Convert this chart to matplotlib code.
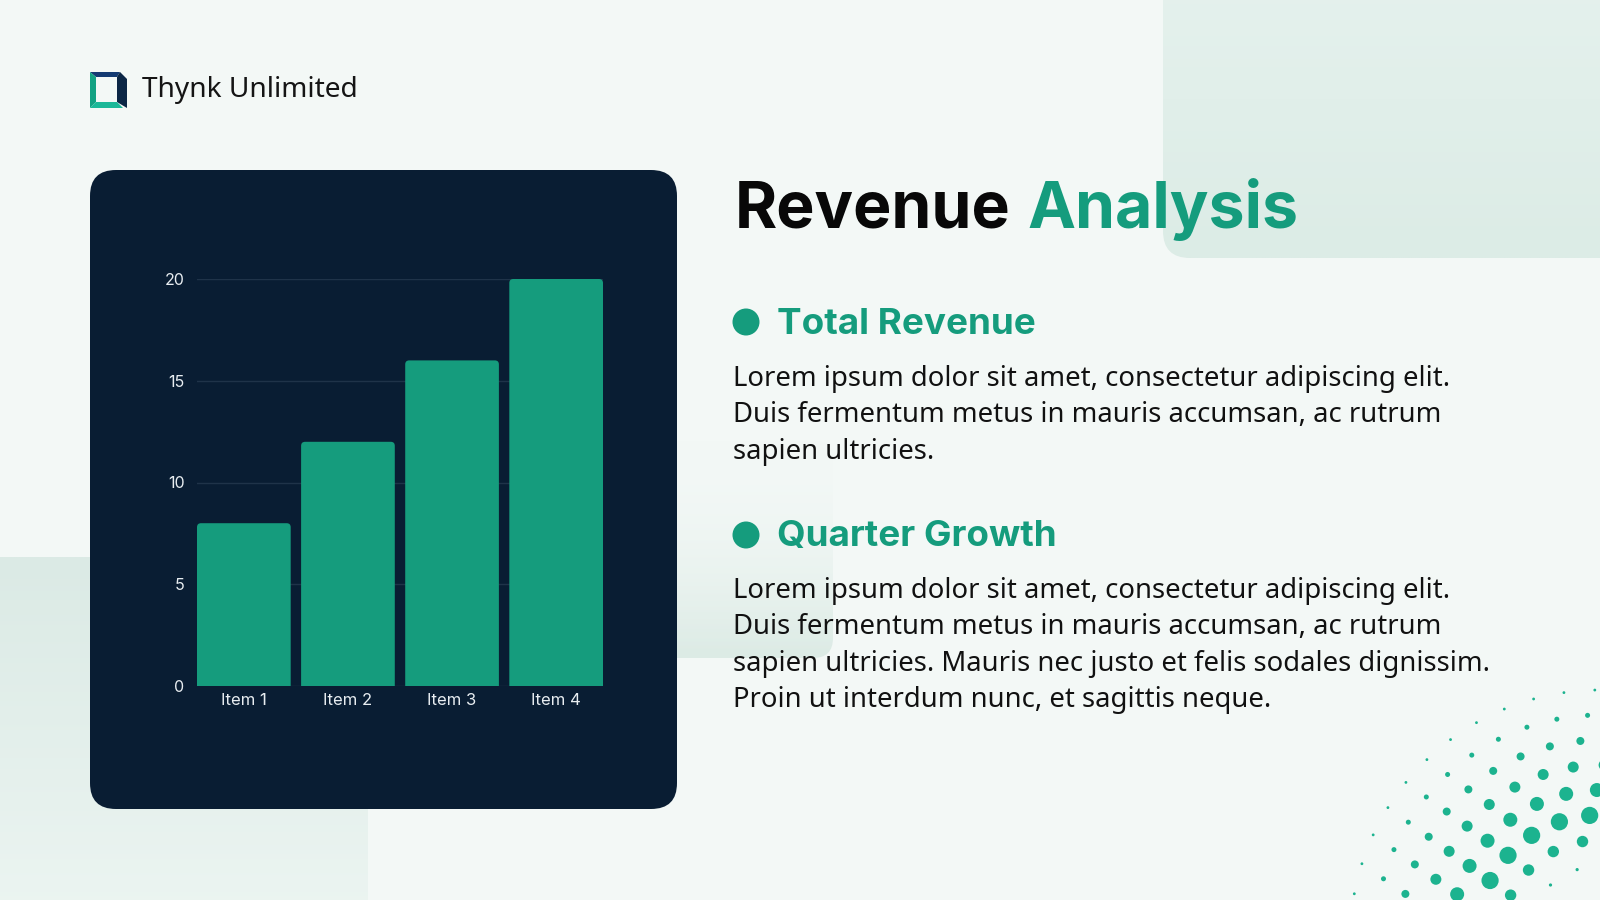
"""
Revenue Analysis slide: bar chart in a dark card with text blocks on the right.
"""

import numpy as np
import matplotlib
matplotlib.use("Agg")
import matplotlib.pyplot as plt
from matplotlib.patches import FancyBboxPatch, Polygon, Circle
from matplotlib.colors import to_rgb

# chart data
categories = ["Item 1", "Item 2", "Item 3", "Item 4"]
values = [8, 12, 16, 20]
y_ticks = [0, 5, 10, 15, 20]

# slide text
brand = "Thynk Unlimited"
title_dark = "Revenue"
title_green = "Analysis"
heading_1 = "Total Revenue"
body_1 = [
    "Lorem ipsum dolor sit amet, consectetur adipiscing elit.",
    "Duis fermentum metus in mauris accumsan, ac rutrum",
    "sapien ultricies.",
]
heading_2 = "Quarter Growth"
body_2 = [
    "Lorem ipsum dolor sit amet, consectetur adipiscing elit.",
    "Duis fermentum metus in mauris accumsan, ac rutrum",
    "sapien ultricies. Mauris nec justo et felis sodales dignissim.",
    "Proin ut interdum nunc, et sagittis neque.",
]

BG = "#f3f8f6"
CARD = "#091d33"
GREEN = "#159c7d"
DOT = "#1cb38f"

fig = plt.figure(figsize=(16, 9), dpi=100, facecolor=BG)
bg = fig.add_axes([0, 0, 1, 1])
bg.set_facecolor(BG)
bg.axis("off")
renderer = fig.canvas.get_renderer()


def gradient_box(x0, y0, x1, y1, c_top, c_bot, a_top=1.0, a_bot=1.0, radius=0):
    n = 256
    t = np.linspace(0, 1, n)[:, None]
    top = np.array(to_rgb(c_top) + (a_top,))
    bot = np.array(to_rgb(c_bot) + (a_bot,))
    img = top + (bot - top) * t
    img = np.repeat(img[:, None, :], 2, axis=1).reshape(n, 2, 4)
    im = bg.imshow(img, extent=(x0, x1, y1, y0), aspect="auto",
                   interpolation="bilinear", zorder=1)
    clip = FancyBboxPatch((x0, y0), x1 - x0, y1 - y0,
                          boxstyle=f"round,pad=0,rounding_size={radius}",
                          facecolor="none", edgecolor="none",
                          transform=bg.transData)
    bg.add_patch(clip)
    im.set_clip_path(clip)


# soft background shapes
gradient_box(1163, -60, 1660, 258, "#e6f2ee", "#dcece6", radius=27)
gradient_box(-60, 557, 368, 960, "#dbeae5", "#eef6f3", radius=0)
gradient_box(600, 440, 833, 658, BG, "#dcebe5", a_top=0.0, a_bot=1.0, radius=20)

# halftone dots, bottom right
dot_center = (1600, 940)
ring_radii = [250, 225, 200, 175, 150, 125, 100, 74]
ring_dot_sizes = [1.4, 2.5, 4.0, 5.5, 7.0, 8.6, 5.7, 1.6]
for k, (R, s) in enumerate(zip(ring_radii, ring_dot_sizes)):
    step = 31.0 / R
    a = ((k + 1) % 2) * step / 2
    while a < np.pi / 2 + step:
        x = dot_center[0] - R * np.cos(a)
        y = dot_center[1] - R * np.sin(a)
        if x < 1600 + s and y < 900 + s:
            bg.add_patch(Circle((x, y), s, color=DOT, lw=0, zorder=2))
        a += step

# logo
logo_parts = [
    ([(90, 72), (120, 72), (117, 77), (96, 77)], "#133a72"),
    ([(120, 72), (127, 79), (127, 108), (117, 102), (117, 77)], "#0b2645"),
    ([(90, 72), (96, 77), (96, 102), (90, 108)], "#13a283"),
    ([(90, 108), (96, 102), (117, 102), (123, 108)], "#1bb898"),
]
for pts, col in logo_parts:
    bg.add_patch(Polygon(pts, closed=True, color=col, lw=0, zorder=3))


def text_width(s, size, **kw):
    t = bg.text(0, 0, s, fontsize=size, **kw)
    w = t.get_window_extent(renderer).width
    t.remove()
    return w


def fit_text(x, y, s, width, size=20, **kw):
    t = bg.text(x, y, s, fontsize=size, va="baseline", ha="left", zorder=5, **kw)
    w = t.get_window_extent(renderer).width
    t.set_fontsize(size * width / w)
    return t


fit_text(142, 97, brand, 216, family="Noto Sans", color="#151515")

# dark card
bg.add_patch(FancyBboxPatch((90, 170), 587, 639,
                            boxstyle="round,pad=0,rounding_size=26",
                            facecolor=CARD, edgecolor="none", zorder=3))

# title: one size chosen so both words land near their measured widths
title_font = dict(family="Inter", weight="bold")
k1 = 281 / text_width(title_dark, 20, **title_font)
k2 = 267 / text_width(title_green, 20, **title_font)
title_size = 20 * (k1 + k2) / 2
bg.text(735, 228, title_dark, fontsize=title_size, color="#080808",
        va="baseline", ha="left", zorder=5, **title_font)
bg.text(1027, 228, title_green, fontsize=title_size, color=GREEN,
        va="baseline", ha="left", zorder=5, **title_font)

# headings with bullets
head_font = dict(family="Inter", weight="bold")
h = fit_text(777, 334, heading_1, 259, color=GREEN, **head_font)
bg.text(777, 546, heading_2, fontsize=h.get_fontsize(), color=GREEN,
        va="baseline", ha="left", zorder=5, **head_font)
for cy in (322, 535):
    bg.add_patch(Circle((746, cy), 13.5, color=GREEN, lw=0, zorder=5))

# body text
b = fit_text(733, 386, body_1[0], 717, family="Noto Sans", color="#111111")
size = b.get_fontsize()
for i, line in enumerate(body_1[1:], start=1):
    bg.text(733, 386 + 36.5 * i, line, fontsize=size, family="Noto Sans",
            color="#111111", va="baseline", ha="left", zorder=5)
for i, line in enumerate(body_2):
    bg.text(733, 598 + 36.5 * i, line, fontsize=size, family="Noto Sans",
            color="#111111", va="baseline", ha="left", zorder=5)

bg.set_xlim(0, 1600)
bg.set_ylim(900, 0)

# bar chart inside the card
ax = fig.add_axes([197 / 1600, (900 - 686) / 900, 406 / 1600, 407 / 900])
ax.set_facecolor("none")
ax.set_zorder(4)
x = np.arange(len(categories))
bars = ax.bar(x, values, width=0.9, color=GREEN)
ax.set_xlim(-0.45, len(categories) - 0.55)
ax.set_ylim(0, 20)

# round the top corners of each bar
px_x = 406 / 3.9
px_y = 407 / 20
for bar in bars:
    bx, bw, bh = bar.get_x(), bar.get_width(), bar.get_height()
    r = 4 / px_x
    ax.add_patch(FancyBboxPatch((bx, -1), bw, bh + 1,
                                boxstyle=f"round,pad=0,rounding_size={r}",
                                mutation_aspect=px_x / px_y,
                                facecolor=GREEN, edgecolor="none", zorder=3))
    bar.set_visible(False)

ax.set_yticks(y_ticks)
ax.set_xticks(x)
ax.set_xticklabels(categories)
ax.grid(axis="y", color="#1f3349", linewidth=1)
ax.set_axisbelow(True)
for sp in ax.spines.values():
    sp.set_visible(False)
ax.tick_params(axis="both", length=0, colors="#e8edf1")
ax.tick_params(axis="x", pad=5, labelsize=12)
ax.tick_params(axis="y", pad=9, labelsize=11.5)
for lab in ax.get_xticklabels() + ax.get_yticklabels():
    lab.set_family("Inter")

fig.savefig("out.png", dpi=100, facecolor=BG)
